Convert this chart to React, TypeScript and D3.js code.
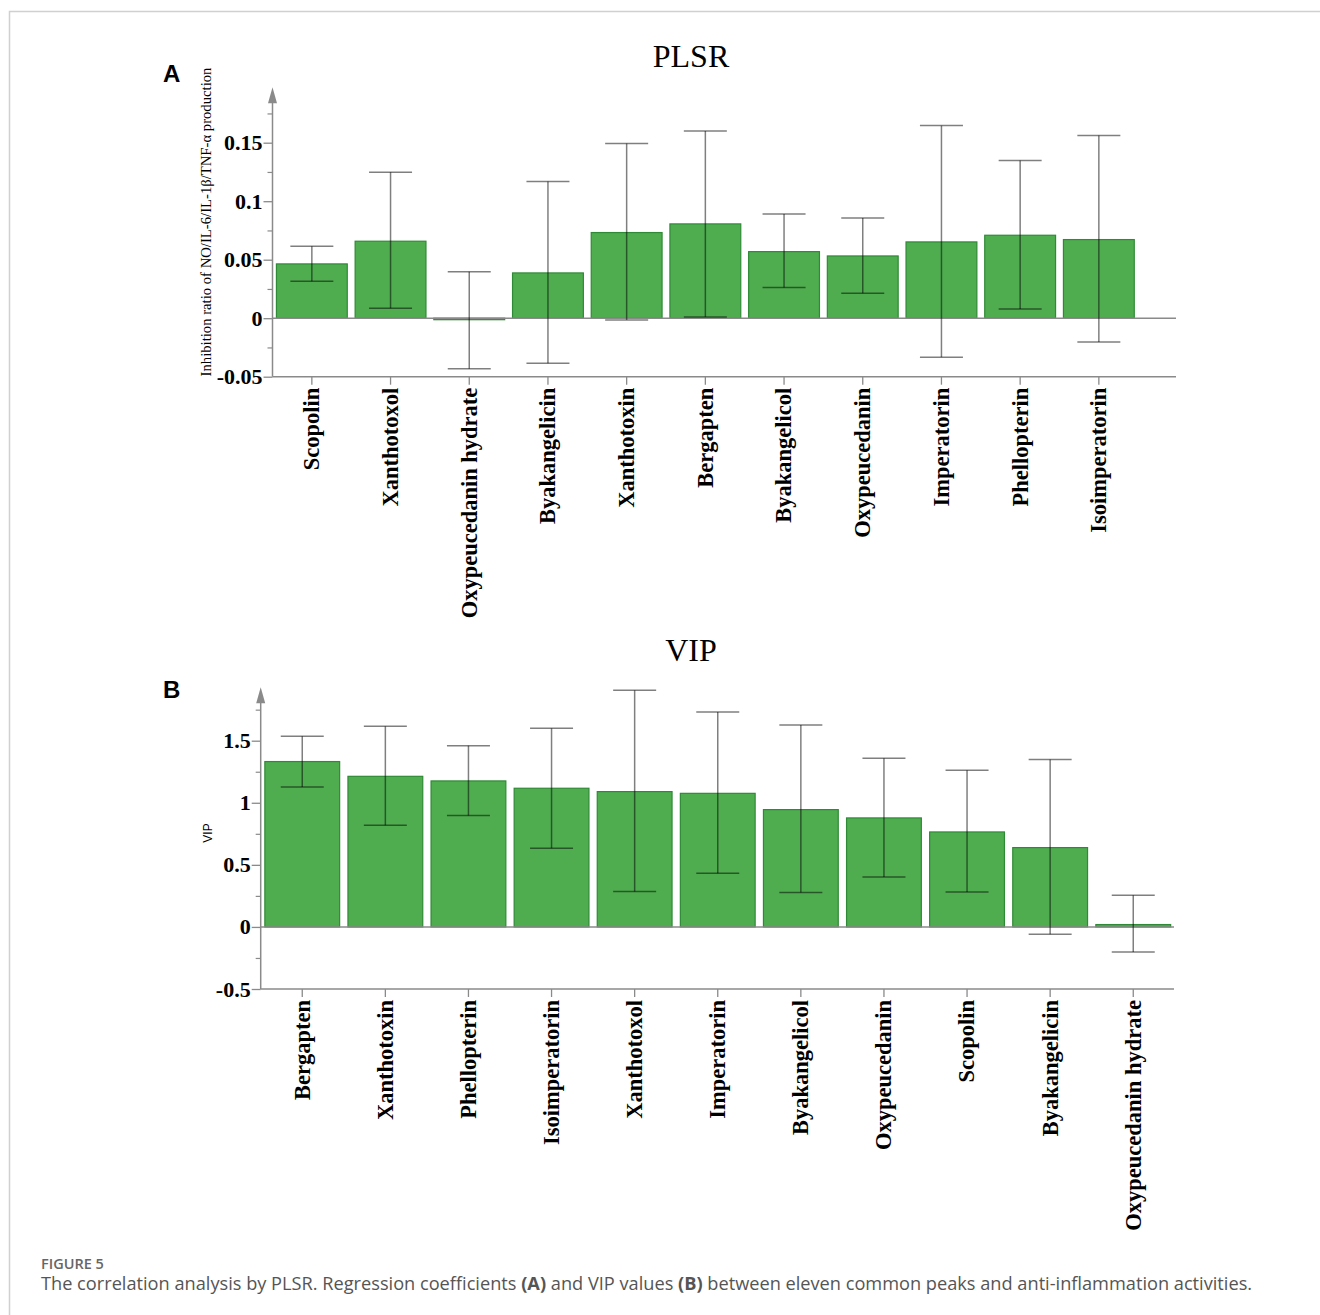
import { useEffect, useRef } from 'react';
import * as d3 from 'd3';

// Panel A: PLSR regression coefficients
const plsrNames = ['Scopolin', 'Xanthotoxol', 'Oxypeucedanin hydrate', 'Byakangelicin', 'Xanthotoxin', 'Bergapten', 'Byakangelicol', 'Oxypeucedanin', 'Imperatorin', 'Phellopterin', 'Isoimperatorin'];
const plsrValues = [0.0464, 0.0658, -0.001, 0.0387, 0.0732, 0.0806, 0.0569, 0.0532, 0.0652, 0.0709, 0.0672];
const plsrUpper = [0.0615, 0.1248, 0.0396, 0.1168, 0.1493, 0.160, 0.0891, 0.0857, 0.1646, 0.1347, 0.1561];
const plsrLower = [0.0316, 0.0085, -0.0433, -0.0385, -0.0015, 0.0011, 0.0262, 0.0214, -0.0333, 0.0079, -0.0203];
const plsrTicks = [-0.05, 0, 0.05, 0.1, 0.15];
const plsrMinor = [-0.025, 0.025, 0.075, 0.125, 0.175];

// Panel B: VIP values
const vipNames = ['Bergapten', 'Xanthotoxin', 'Phellopterin', 'Isoimperatorin', 'Xanthotoxol', 'Imperatorin', 'Byakangelicol', 'Oxypeucedanin', 'Scopolin', 'Byakangelicin', 'Oxypeucedanin hydrate'];
const vipValues = [1.332, 1.213, 1.176, 1.117, 1.09, 1.076, 0.945, 0.878, 0.765, 0.639, 0.019];
const vipUpper = [1.535, 1.616, 1.46, 1.60, 1.906, 1.731, 1.626, 1.358, 1.262, 1.348, 0.255];
const vipLower = [1.127, 0.819, 0.897, 0.634, 0.285, 0.432, 0.277, 0.403, 0.282, -0.059, -0.201];
const vipTicks = [-0.5, 0, 0.5, 1, 1.5];
const vipMinor = [-0.25, 0.25, 0.75, 1.25, 1.75];

const AXIS = '#8a8a8a';
const SERIF = '"Liberation Serif", "Times New Roman", serif';
const SANS = '"Liberation Sans", Arial, sans-serif';
const CAPFONT = '"Open Sans", "Noto Sans", sans-serif';

function drawPanel(svg, cfg) {
  const { names, values, upper, lower, ticks, minor, yDomain, yRange, xRange, xEnd, axisTop, title, titleY, letter, letterY, yLabel, yLabelFont, yLabelSize } = cfg;

  const x = d3.scaleBand().domain(names).range(xRange).paddingInner(0.1).paddingOuter(0.05);
  const y = d3.scaleLinear().domain(yDomain).range(yRange);
  const x0 = xRange[0];
  const yBottom = y(yDomain[0]);

  // title + panel letter
  svg.append('text').attr('x', 691).attr('y', titleY).attr('text-anchor', 'middle')
    .style('font-family', SERIF).style('font-size', '32px').text(title);
  svg.append('text').attr('x', 163).attr('y', letterY)
    .style('font-family', SANS).style('font-weight', 'bold').style('font-size', '24px').text(letter);

  // y axis label
  svg.append('text')
    .attr('transform', `translate(${cfg.yLabelX},${cfg.yLabelY}) rotate(-90)`)
    .attr('text-anchor', 'middle')
    .style('font-family', yLabelFont).style('font-size', yLabelSize).text(yLabel);

  // bars
  svg.append('g').selectAll('rect').data(names).join('rect')
    .attr('x', d => x(d))
    .attr('width', x.bandwidth())
    .attr('y', (d, i) => Math.min(y(values[i]), y(0)))
    .attr('height', (d, i) => Math.max(Math.abs(y(values[i]) - y(0)), 1.5))
    .attr('fill', '#4fad50')
    .attr('stroke', '#2f8a35')
    .attr('stroke-width', 1.2);

  // zero line
  svg.append('line').attr('x1', x0).attr('x2', xEnd).attr('y1', y(0)).attr('y2', y(0))
    .attr('stroke', AXIS).attr('stroke-width', 1.5);

  // error bars
  const eb = svg.append('g').attr('stroke', 'rgba(0,0,0,0.5)').attr('stroke-width', 1.5);
  names.forEach((n, i) => {
    const cx = x(n) + x.bandwidth() / 2;
    eb.append('line').attr('x1', cx).attr('x2', cx).attr('y1', y(upper[i])).attr('y2', y(lower[i]));
    eb.append('line').attr('x1', cx - 21.5).attr('x2', cx + 21.5).attr('y1', y(upper[i])).attr('y2', y(upper[i]));
    eb.append('line').attr('x1', cx - 21.5).attr('x2', cx + 21.5).attr('y1', y(lower[i])).attr('y2', y(lower[i]));
  });

  // y axis: major + minor ticks
  const gy = svg.append('g').attr('transform', `translate(${x0},0)`)
    .call(d3.axisLeft(y).tickValues(ticks).tickSize(9).tickPadding(1).tickFormat(d => String(d)));
  gy.select('.domain').remove();
  gy.selectAll('line').attr('stroke', AXIS).attr('stroke-width', 1.3);
  gy.selectAll('text').style('font-family', SERIF).style('font-weight', 'bold').style('font-size', '22px').attr('fill', '#000');

  const gm = svg.append('g').attr('transform', `translate(${x0},0)`)
    .call(d3.axisLeft(y).tickValues(minor).tickSize(5).tickFormat(() => ''));
  gm.select('.domain').remove();
  gm.selectAll('line').attr('stroke', AXIS).attr('stroke-width', 1.2);

  // y axis line + arrow
  const yTop = y(axisTop);
  svg.append('line').attr('x1', x0).attr('x2', x0).attr('y1', yBottom).attr('y2', yTop + 10)
    .attr('stroke', AXIS).attr('stroke-width', 1.5);
  svg.append('path').attr('d', `M${x0},${yTop} L${x0 - 4.5},${yTop + 16} L${x0 + 4.5},${yTop + 16} Z`).attr('fill', AXIS);

  // x axis
  const gx = svg.append('g').attr('transform', `translate(0,${yBottom})`)
    .call(d3.axisBottom(x).tickSize(8).tickSizeOuter(0));
  gx.select('.domain').remove();
  gx.selectAll('line').attr('stroke', AXIS).attr('stroke-width', 1.3);
  gx.selectAll('text')
    .attr('transform', 'rotate(-90)')
    .attr('x', -11).attr('y', 0).attr('dy', '0.33em')
    .attr('text-anchor', 'end')
    .attr('fill', '#000')
    .style('font-family', SERIF).style('font-weight', 'bold').style('font-size', '22.5px');
  svg.append('line').attr('x1', x0).attr('x2', xEnd).attr('y1', yBottom).attr('y2', yBottom)
    .attr('stroke', AXIS).attr('stroke-width', 1.5);
}

export default function App() {
  const ref = useRef(null);

  useEffect(() => {
    const svg = d3.select(ref.current);
    svg.selectAll('*').remove();

    // figure frame (left + top rule)
    svg.append('path').attr('d', 'M9.5,1315 L9.5,11.5 L1320,11.5').attr('fill', 'none').attr('stroke', '#d0d0d0').attr('stroke-width', 1.5);

    drawPanel(svg, {
      names: plsrNames, values: plsrValues, upper: plsrUpper, lower: plsrLower,
      ticks: plsrTicks, minor: plsrMinor,
      yDomain: [-0.05, 0.15], yRange: [376.7, 142.7], axisTop: 0.1975,
      xRange: [272.5, 272.5 + 11 * 78.7], xEnd: 1176,
      title: 'PLSR', titleY: 67, letter: 'A', letterY: 82,
      yLabel: 'Inhibition ratio of NO/IL-6/IL-1β/TNF-α production', yLabelX: 211, yLabelY: 222,
      yLabelFont: SERIF, yLabelSize: '14.7px',
    });

    drawPanel(svg, {
      names: vipNames, values: vipValues, upper: vipUpper, lower: vipLower,
      ticks: vipTicks, minor: vipMinor,
      yDomain: [-0.5, 1.5], yRange: [989, 740.7], axisTop: 1.93,
      xRange: [260.7, 260.7 + 11 * 83.1], xEnd: 1174,
      title: 'VIP', titleY: 661, letter: 'B', letterY: 698,
      yLabel: 'VIP', yLabelX: 212, yLabelY: 833,
      yLabelFont: SANS, yLabelSize: '12px',
    });

    // caption
    svg.append('text').attr('x', 41).attr('y', 1269)
      .style('font-family', CAPFONT).style('font-size', '14.5px').style('font-weight', 600).attr('fill', '#666')
      .text('FIGURE 5');
    const cap = svg.append('text').attr('x', 41).attr('y', 1289.5)
      .style('font-family', CAPFONT).style('font-size', '18.2px').attr('fill', '#555');
    cap.append('tspan').text('The correlation analysis by PLSR. Regression coefficients ');
    cap.append('tspan').style('font-weight', 'bold').text('(A)');
    cap.append('tspan').text(' and VIP values ');
    cap.append('tspan').style('font-weight', 'bold').text('(B)');
    cap.append('tspan').text(' between eleven common peaks and anti-inflammation activities.');
  }, []);

  return (
    <svg ref={ref} width={1320} height={1315}
      style={{ position: 'absolute', left: 0, top: 0, background: '#fff' }} />
  );
}
